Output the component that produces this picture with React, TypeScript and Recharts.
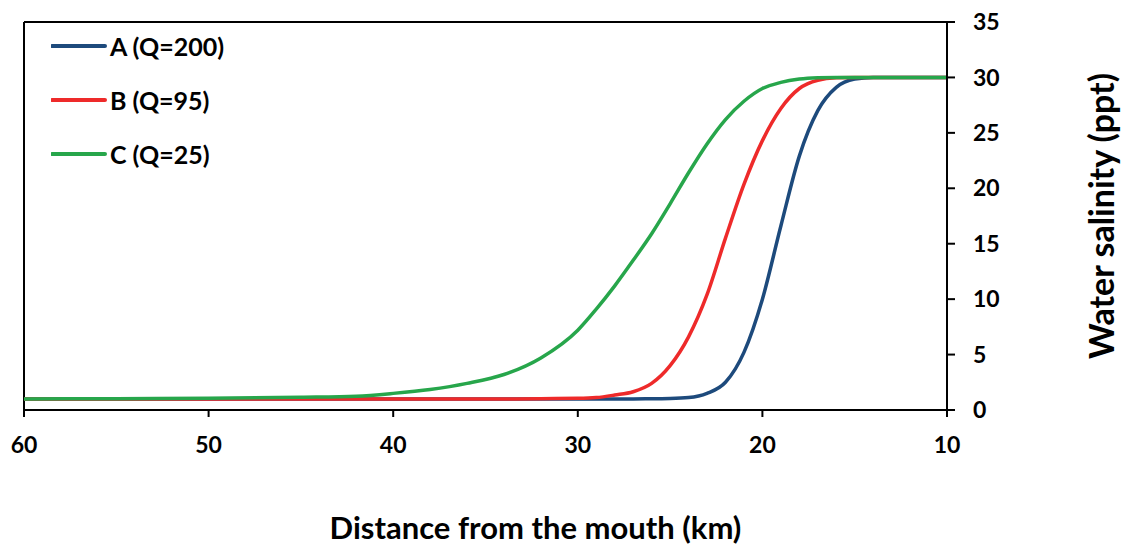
import { Label, Legend, Line, LineChart, ReferenceLine, XAxis, YAxis } from "recharts";

// distance from the mouth (km), shared by all three runs
const km = [60, 55, 50, 45, 42, 40, 38, 36, 34, 32, 30, 29, 28, 27, 26, 25, 24, 23, 22, 21, 20, 19, 18, 17, 16, 15, 14, 12, 10];
const salinityA = [1, 1, 1, 1, 1, 1, 1, 1, 1, 1, 1, 1, 1, 1, 1.02, 1.04, 1.12, 1.5, 2.5, 5.2, 10.0, 16.6, 22.9, 27.0, 29.1, 29.85, 30, 30, 30];
const salinityB = [1, 1, 1, 1, 1, 1, 1, 1, 1, 1.02, 1.05, 1.12, 1.35, 1.65, 2.4, 4.0, 6.6, 10.4, 15.5, 20.35, 24.3, 27.2, 29.0, 29.75, 29.97, 30, 30, 30, 30];
const salinityC = [1, 1.02, 1.05, 1.15, 1.25, 1.5, 1.85, 2.4, 3.2, 4.7, 7.2, 9.1, 11.2, 13.5, 15.9, 18.6, 21.4, 24.0, 26.2, 27.85, 29.0, 29.55, 29.85, 29.97, 30, 30, 30, 30, 30];

const xTicks = [60, 50, 40, 30, 20, 10];
const yTicks = [0, 5, 10, 15, 20, 25, 30, 35];

const rows = km.map((d, i) => ({ km: d, A: salinityA[i], B: salinityB[i], C: salinityC[i] }));

const FONT = "Lato, 'Open Sans', sans-serif";
const tickStyle = { fill: "#000", fontSize: 23, fontWeight: 700, fontFamily: FONT };

function LegendBox({ payload }: any) {
  return (
    <div style={{ fontFamily: FONT, fontWeight: 700, fontSize: 25, color: "#000" }}>
      {(payload || []).map((p: any) => (
        <div key={p.value} style={{ display: "flex", alignItems: "center", height: 54 }}>
          <svg width={56} height={8} style={{ marginRight: 3 }}>
            <line x1={1} y1={4} x2={54} y2={4} stroke={p.color} strokeWidth={4} strokeLinecap="round" />
          </svg>
          <span>{p.value}</span>
        </div>
      ))}
    </div>
  );
}

function YTitle({ viewBox }: any) {
  const x = viewBox.x + viewBox.width - 23;
  const y = viewBox.y + viewBox.height / 2;
  return (
    <text x={x} y={y} transform={`rotate(-90, ${x}, ${y})`} textAnchor="middle" dominantBaseline="central"
      style={{ fontFamily: FONT, fontWeight: 700, fontSize: 34, fill: "#000" }}>
      Water salinity (ppt)
    </text>
  );
}

export default function App() {
  return (
    <div style={{ position: "absolute", left: 0, top: 0, width: 1123, height: 548, background: "#fff" }}>
      <LineChart width={1123} height={548} data={rows} margin={{ top: 22, right: 0, bottom: 0, left: 24 }}>
        <XAxis dataKey="km" type="number" domain={[10, 60]} reversed ticks={xTicks} height={138}
          axisLine={{ stroke: "#000", strokeWidth: 2 }} tickLine={{ stroke: "#000", strokeWidth: 2 }}
          tickSize={7} tickMargin={20} tick={tickStyle}>
          <Label value="Distance from the mouth (km)" position="insideBottom" offset={9} dx={50}
            style={{ fontFamily: FONT, fontWeight: 700, fontSize: 31, fill: "#000" }} />
        </XAxis>
        <YAxis orientation="right" domain={[0, 35]} ticks={yTicks} width={176}
          axisLine={{ stroke: "#000", strokeWidth: 2 }} tickLine={{ stroke: "#000", strokeWidth: 2 }}
          tickSize={8} tickMargin={18} tick={tickStyle}>
          <Label content={<YTitle />} />
        </YAxis>
        <ReferenceLine y={35} stroke="#000" strokeWidth={2} />
        <ReferenceLine x={60} stroke="#000" strokeWidth={2} />
        <Legend layout="vertical" align="center" verticalAlign="middle" content={<LegendBox />}
          wrapperStyle={{ left: 51, top: 19, width: "auto", height: "auto" }} />
        <Line type="monotone" dataKey="A" name="A (Q=200)" stroke="#1d4a7c" strokeWidth={3.5} dot={false} isAnimationActive={false} />
        <Line type="monotone" dataKey="B" name="B (Q=95)" stroke="#ee2a2a" strokeWidth={3.5} dot={false} isAnimationActive={false} />
        <Line type="monotone" dataKey="C" name="C (Q=25)" stroke="#27a64b" strokeWidth={3.5} dot={false} isAnimationActive={false} />
      </LineChart>
    </div>
  );
}
